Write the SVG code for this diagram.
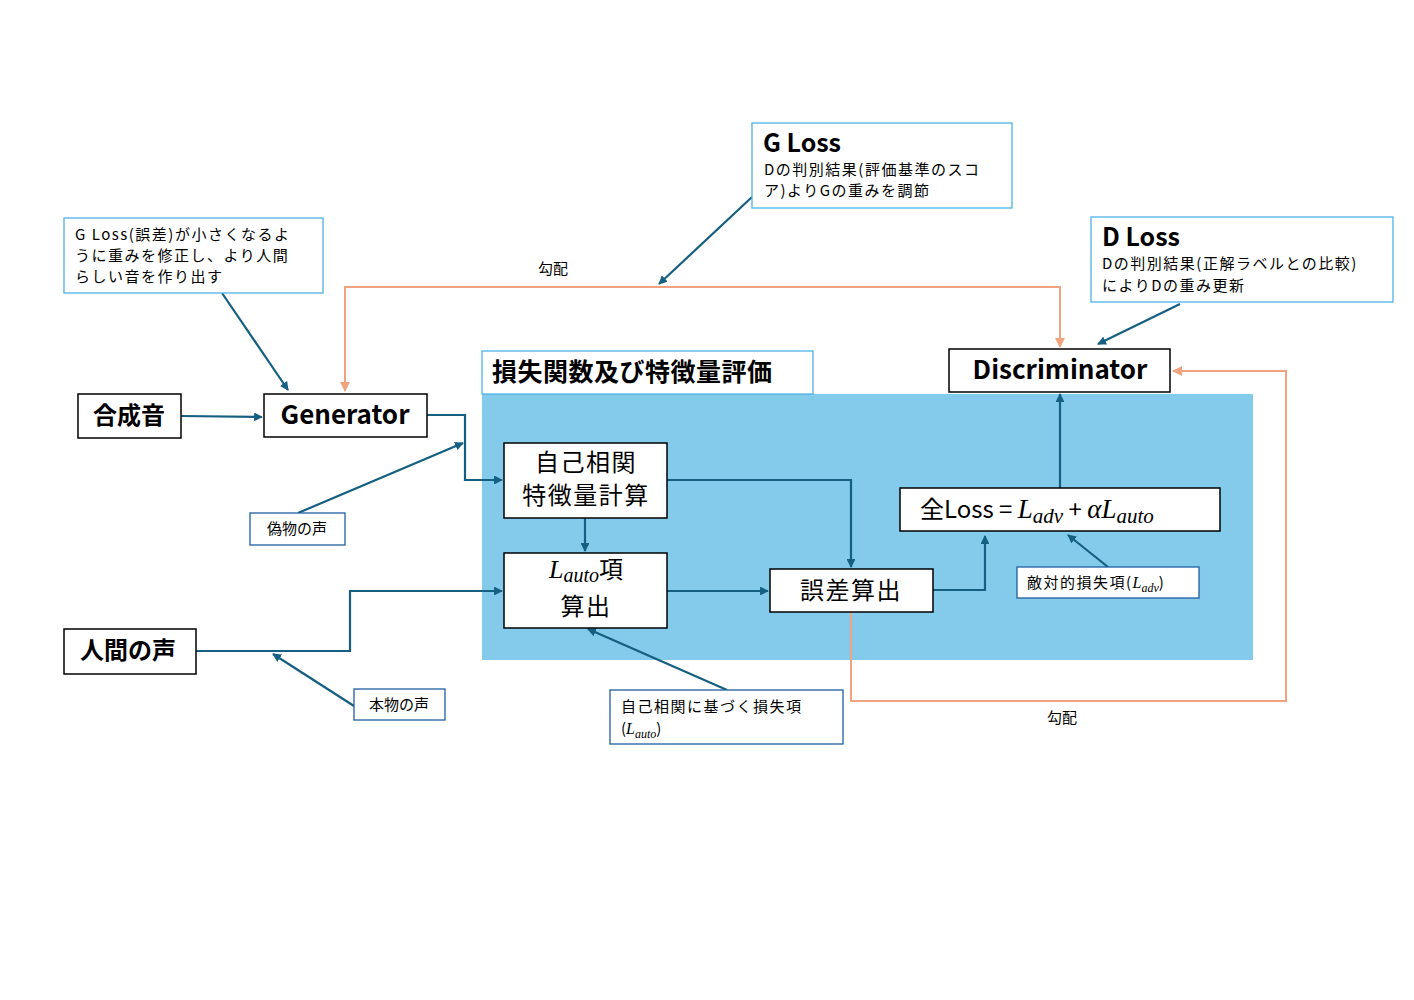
<svg xmlns="http://www.w3.org/2000/svg" width="1414" height="1000" viewBox="0 0 1414 1000">
<style>
.n{fill:#fff;stroke:#000;stroke-width:1.5}
.c{fill:#fff;stroke:#4DB3E6;stroke-width:1.3}
.cd{fill:#fff;stroke:#1F5F9E;stroke-width:1.3}
text{font-family:"Noto Sans CJK JP","Noto Sans",sans-serif;fill:#000}
.s{letter-spacing:1.5px}
.b{font-weight:bold}
.m{font-family:"Liberation Serif",serif;font-style:italic;letter-spacing:0}
.l{fill:none;stroke:#155F82;stroke-width:2.2}
.o{fill:none;stroke:#F1A27F;stroke-width:2}
</style>
<defs>
<marker id="a" viewBox="0 0 10 10" refX="9" refY="5" markerWidth="4" markerHeight="4" orient="auto-start-reverse"><path d="M0,0L10,5L0,10z" fill="#155F82"/></marker>
<marker id="ao" viewBox="0 0 10 10" refX="9" refY="5" markerWidth="5" markerHeight="5" orient="auto-start-reverse"><path d="M0,0L10,5L0,10z" fill="#F1A27F"/></marker>
</defs>
<rect x="482" y="394" width="771" height="266" fill="#83CAEB"/>
<g id="title"><rect x="482" y="351" width="331" height="43" class="c" stroke="#C9E6F5"/><text x="492" y="381" font-size="25" class="b" letter-spacing="0.5">損失関数及び特徴量評価</text></g>
<g id="connectors">
<path class="l" d="M181,416L262,417" marker-end="url(#a)"/>
<path class="l" d="M427,415H465V480H502" marker-end="url(#a)"/>
<path class="l" d="M298,513L463,443" marker-end="url(#a)"/>
<path class="l" d="M196,651H350V591H502" marker-end="url(#a)"/>
<path class="l" d="M354,706L273,654" marker-end="url(#a)"/>
<path class="l" d="M585,518V551" marker-end="url(#a)"/>
<path class="l" d="M667,480H851V567" marker-end="url(#a)"/>
<path class="l" d="M667,591H768" marker-end="url(#a)"/>
<path class="l" d="M933,590H985V536" marker-end="url(#a)"/>
<path class="l" d="M1060,488V394" marker-end="url(#a)"/>
<path class="l" d="M1108,567L1068,535" marker-end="url(#a)"/>
<path class="l" d="M727,690L588,629" marker-end="url(#a)"/>
<path class="l" d="M222,293L288,390" marker-end="url(#a)"/>
<path class="l" d="M752,197L659,284" marker-end="url(#a)"/>
<path class="l" d="M1180,304L1098,344" marker-end="url(#a)"/>
<path class="o" d="M345,391V287H1060V347" marker-start="url(#ao)" marker-end="url(#ao)"/>
<path class="o" d="M851,612V701H1286V371H1173" marker-end="url(#ao)"/>
<text x="553" y="274" font-size="15" text-anchor="middle">勾配</text>
<text x="1062" y="723" font-size="15" text-anchor="middle">勾配</text>
</g>
<g id="gousei"><rect x="78" y="394" width="103" height="44" class="n"/><text x="129" y="424" font-size="24" class="b" text-anchor="middle">合成音</text></g>
<g id="generator"><rect x="264" y="394" width="163" height="43" class="n"/><text x="345" y="424" font-size="26" class="b" text-anchor="middle" font-family="Noto Sans,sans-serif">Generator</text></g>
<g id="ningen"><rect x="64" y="629" width="132" height="45" class="n"/><text x="128" y="659" font-size="24" class="b" text-anchor="middle">人間の声</text></g>
<g id="jiko"><rect x="504" y="443" width="163" height="75" class="n"/><text x="586" y="471" font-size="24" text-anchor="middle" class="s">自己相関</text><text x="586" y="504" font-size="24" text-anchor="middle" class="s">特徴量計算</text></g>
<g id="lauto"><rect x="504" y="553" width="163" height="75" class="n"/><text x="586" y="578" font-size="24" text-anchor="middle"><tspan class="m" font-size="26">L</tspan><tspan class="m" font-size="20" dy="4">auto</tspan><tspan dy="-4">項</tspan></text><text x="586" y="615" font-size="24" text-anchor="middle" class="s">算出</text></g>
<g id="gosa"><rect x="770" y="569" width="163" height="43" class="n"/><text x="851" y="599" font-size="24" text-anchor="middle" class="s">誤差算出</text></g>
<g id="zenloss"><rect x="900" y="488" width="320" height="43" class="n"/><text x="920" y="518" font-size="24">全Loss = <tspan class="m" font-size="27">L</tspan><tspan class="m" font-size="21" dy="5">adv</tspan><tspan dy="-5"> + </tspan><tspan class="m" font-size="27">αL</tspan><tspan class="m" font-size="21" dy="5">auto</tspan></text></g>
<g id="disc"><rect x="949" y="349" width="221" height="43" class="n"/><text x="1060" y="379" font-size="26" class="b" text-anchor="middle" font-family="Noto Sans,sans-serif">Discriminator</text></g>
<g id="teki"><rect x="1017" y="567" width="182" height="31" class="cd"/><text x="1027" y="588" font-size="15" class="s">敵対的損失項(<tspan class="m" font-size="16">L</tspan><tspan class="m" font-size="12" dy="4">adv</tspan><tspan dy="-4">)</tspan></text></g>
<g id="gloss"><rect x="752" y="123" width="260" height="85" class="c"/><text x="763" y="152" font-size="25" class="b" font-family="Noto Sans,sans-serif">G Loss</text><text x="764" y="175" font-size="15" class="s">Dの判別結果(評価基準のスコ</text><text x="764" y="196" font-size="15" class="s">ア)よりGの重みを調節</text></g>
<g id="dloss"><rect x="1091" y="217" width="302" height="85" class="c"/><text x="1102" y="246" font-size="25" class="b" font-family="Noto Sans,sans-serif">D Loss</text><text x="1102" y="269" font-size="15" class="s">Dの判別結果(正解ラベルとの比較)</text><text x="1102" y="291" font-size="15" class="s">によりDの重み更新</text></g>
<g id="gnote"><rect x="64" y="218" width="259" height="75" class="c"/><text x="75" y="240" font-size="15" class="s">G Loss(誤差)が小さくなるよ</text><text x="75" y="261" font-size="15" class="s">うに重みを修正し、より人間</text><text x="75" y="282" font-size="15" class="s">らしい音を作り出す</text></g>
<g id="nise"><rect x="250" y="513" width="95" height="32" class="cd"/><text x="297" y="534" font-size="15" text-anchor="middle">偽物の声</text></g>
<g id="honmono"><rect x="354" y="689" width="91" height="31" class="cd"/><text x="399" y="710" font-size="15" text-anchor="middle">本物の声</text></g>
<g id="jikonote"><rect x="610" y="690" width="233" height="54" class="cd"/><text x="621" y="712" font-size="15" class="s">自己相関に基づく損失項</text><text x="621" y="734" font-size="15">(<tspan class="m" font-size="16">L</tspan><tspan class="m" font-size="12" dy="4">auto</tspan><tspan dy="-4">)</tspan></text></g>
</svg>
